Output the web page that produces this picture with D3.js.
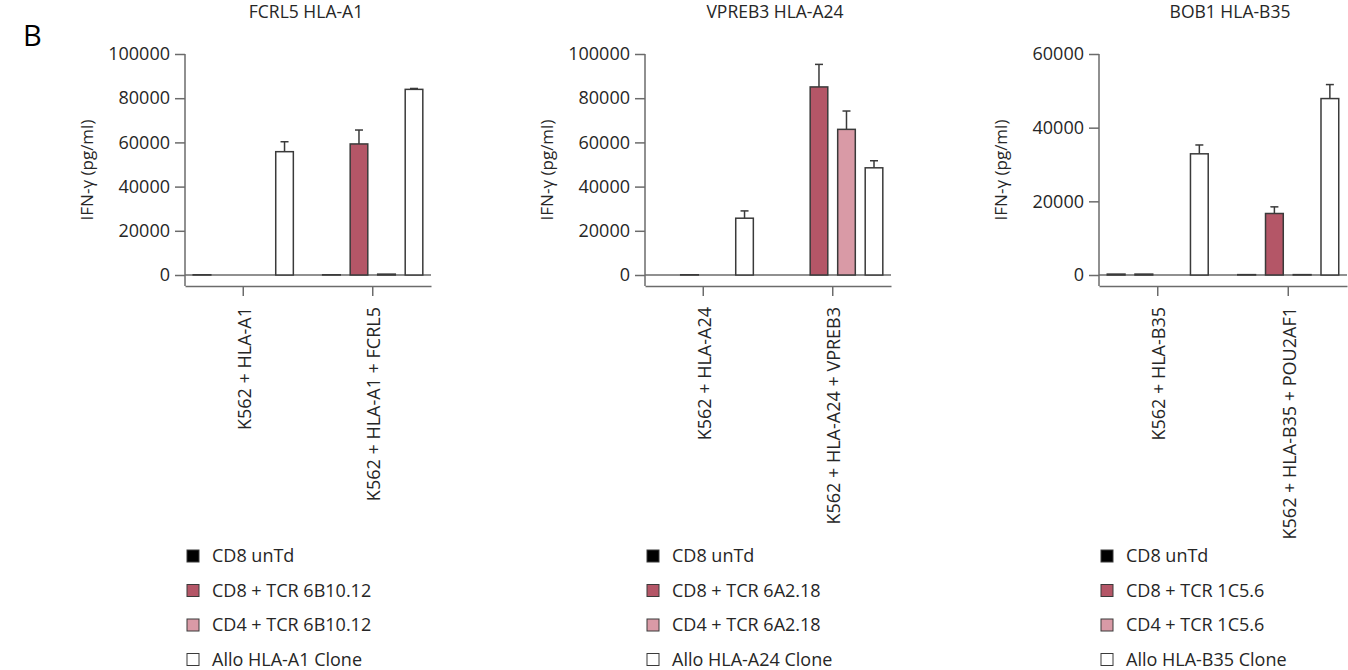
<!DOCTYPE html>
<html>
<head>
<meta charset="utf-8">
<script src="https://cdn.jsdelivr.net/npm/d3@7"></script>
<style>
  html, body { margin: 0; padding: 0; background: #fff; }
  svg { display: block; font-family: "Open Sans", sans-serif; }
</style>
</head>
<body>
<svg id="chart" width="1348" height="670"></svg>
<script>
// ---- Data -------------------------------------------------------------
const panelTitles = ["FCRL5 HLA-A1", "VPREB3 HLA-A24", "BOB1 HLA-B35"];

const categoriesFCRL5 = ["K562 + HLA-A1", "K562 + HLA-A1 + FCRL5"];
const categoriesVPREB3 = ["K562 + HLA-A24", "K562 + HLA-A24 + VPREB3"];
const categoriesBOB1 = ["K562 + HLA-B35", "K562 + HLA-B35 + POU2AF1"];

const seriesFCRL5 = ["CD8 unTd", "CD8 + TCR 6B10.12", "CD4 + TCR 6B10.12", "Allo HLA-A1 Clone"];
const seriesVPREB3 = ["CD8 unTd", "CD8 + TCR 6A2.18", "CD4 + TCR 6A2.18", "Allo HLA-A24 Clone"];
const seriesBOB1 = ["CD8 unTd", "CD8 + TCR 1C5.6", "CD4 + TCR 1C5.6", "Allo HLA-B35 Clone"];

// IFN-γ means (pg/ml), one row per target cell line, one column per effector
const meanFCRL5 = [[100, 0, 0, 55800], [100, 59300, 400, 84000]];
const errFCRL5  = [[0, 0, 0, 4500], [0, 6300, 0, 400]];
const meanVPREB3 = [[0, 100, 0, 25700], [0, 85100, 65900, 48500]];
const errVPREB3  = [[0, 0, 0, 3300], [0, 10200, 8300, 3200]];
const meanBOB1 = [[250, 250, 0, 32900], [100, 16700, 100, 47900]];
const errBOB1  = [[0, 0, 0, 2400], [0, 1800, 0, 3800]];

const yMaxes = [100000, 100000, 60000];
const yTicks = [
  [0, 20000, 40000, 60000, 80000, 100000],
  [0, 20000, 40000, 60000, 80000, 100000],
  [0, 20000, 40000, 60000]
];
const yLabel = "IFN-γ (pg/ml)";
const seriesColors = ["#000000", "#b45667", "#d99aa6", "#ffffff"];

// ---- Layout -----------------------------------------------------------
const panels = [
  { left: 185, right: 431, titleX: 306, categories: categoriesFCRL5, series: seriesFCRL5, mean: meanFCRL5, err: errFCRL5 },
  { left: 645, right: 891, titleX: 775, categories: categoriesVPREB3, series: seriesVPREB3, mean: meanVPREB3, err: errVPREB3 },
  { left: 1099, right: 1347, titleX: 1230, categories: categoriesBOB1, series: seriesBOB1, mean: meanBOB1, err: errBOB1 }
];
const yTop = 54, yZero = 275, xAxisY = 286;
const axisColor = "#6b6b6b", barStroke = "#3a3a3a", textColor = "#262626";
const fontSize = 18;

const svg = d3.select("#chart");

svg.append("text")
  .attr("x", 23).attr("y", 46)
  .attr("font-size", 29).attr("fill", "#000")
  .text("B");

panels.forEach((p, pi) => {
  const g = svg.append("g");

  const y = d3.scaleLinear().domain([0, yMaxes[pi]]).range([yZero, yTop]);
  const x0 = d3.scaleBand().domain(p.categories).range([p.left, p.right])
    .paddingInner(0.15).paddingOuter(0.025);
  const x1 = d3.scaleBand().domain(p.series).range([0, x0.bandwidth()])
    .paddingInner(0.36).paddingOuter(0.18);
  const color = d3.scaleOrdinal().domain(p.series).range(seriesColors);

  // title
  g.append("text")
    .attr("x", p.titleX).attr("y", 18)
    .attr("text-anchor", "middle")
    .attr("font-size", 17.5).attr("fill", textColor)
    .text(panelTitles[pi]);

  // y axis
  const yAxis = d3.axisLeft(y).tickValues(yTicks[pi]).tickFormat(d3.format("d"))
    .tickSize(10).tickPadding(5);
  const ya = g.append("g").attr("transform", `translate(${p.left},0)`).call(yAxis);
  ya.select(".domain").remove();
  ya.selectAll(".tick line").attr("stroke", axisColor).attr("stroke-width", 1.5);
  ya.selectAll(".tick text").attr("font-size", fontSize).attr("fill", textColor)
    .attr("font-family", "Open Sans, sans-serif");
  g.append("line")
    .attr("x1", p.left).attr("x2", p.left)
    .attr("y1", yTop).attr("y2", xAxisY)
    .attr("stroke", axisColor).attr("stroke-width", 1.5);

  // zero baseline
  g.append("line")
    .attr("x1", p.left).attr("x2", p.right)
    .attr("y1", y(0)).attr("y2", y(0))
    .attr("stroke", axisColor).attr("stroke-width", 1.5);

  // x axis
  const xAxis = d3.axisBottom(x0).tickSize(10).tickPadding(4).tickSizeOuter(0);
  const xa = g.append("g").attr("transform", `translate(0,${xAxisY})`).call(xAxis);
  xa.select(".domain").attr("stroke", axisColor).attr("stroke-width", 1.5);
  xa.selectAll(".tick line").attr("stroke", axisColor).attr("stroke-width", 1.5);
  xa.selectAll(".tick text")
    .attr("font-size", fontSize).attr("fill", textColor)
    .attr("font-family", "Open Sans, sans-serif")
    .attr("text-anchor", "end")
    .attr("transform", "rotate(-90)")
    .attr("x", -21).attr("y", 1).attr("dy", "0.35em");

  // y label
  g.append("text")
    .attr("transform", `translate(${p.left - 92},${(yTop + xAxisY) / 2}) rotate(-90)`)
    .attr("text-anchor", "middle")
    .attr("font-size", 17).attr("fill", textColor)
    .text(yLabel);

  // bars
  const rows = [];
  p.categories.forEach((c, ci) => {
    p.series.forEach((s, si) => {
      rows.push({ cat: c, ser: s, v: p.mean[ci][si], e: p.err[ci][si] });
    });
  });

  const bx = d => x0(d.cat) + x1(d.ser);
  g.selectAll("rect.bar").data(rows).join("rect")
    .attr("class", "bar")
    .attr("x", bx)
    .attr("y", d => y(d.v))
    .attr("width", x1.bandwidth())
    .attr("height", d => y(0) - y(d.v))
    .attr("fill", d => color(d.ser))
    .attr("stroke", barStroke)
    .attr("stroke-width", 1.5);

  // error bars (upper only)
  const withErr = rows.filter(d => d.e > 0);
  const cx = d => bx(d) + x1.bandwidth() / 2;
  g.selectAll("line.err").data(withErr).join("line")
    .attr("class", "err")
    .attr("x1", cx).attr("x2", cx)
    .attr("y1", d => y(d.v)).attr("y2", d => y(d.v + d.e))
    .attr("stroke", barStroke).attr("stroke-width", 1.5);
  g.selectAll("line.cap").data(withErr).join("line")
    .attr("class", "cap")
    .attr("x1", d => cx(d) - 4).attr("x2", d => cx(d) + 4)
    .attr("y1", d => y(d.v + d.e)).attr("y2", d => y(d.v + d.e))
    .attr("stroke", barStroke).attr("stroke-width", 1.5);

  // legend
  const leg = g.append("g").attr("transform", `translate(${p.left + 2},556)`);
  p.series.forEach((s, si) => {
    const row = leg.append("g").attr("transform", `translate(0,${si * 34.5})`);
    row.append("rect")
      .attr("x", 0).attr("y", -6).attr("width", 12).attr("height", 12)
      .attr("fill", color(s)).attr("stroke", barStroke).attr("stroke-width", 1);
    row.append("text")
      .attr("x", 25).attr("y", 0).attr("dy", "0.35em")
      .attr("font-size", fontSize).attr("fill", textColor)
      .text(s);
  });
});
</script>
</body>
</html>
